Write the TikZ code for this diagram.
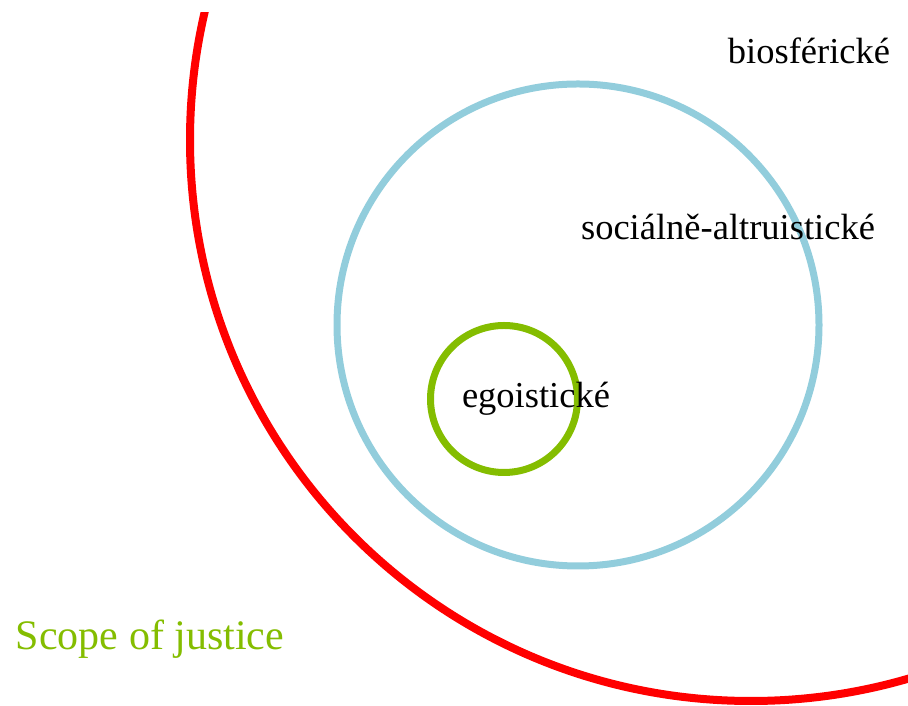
\documentclass[tikz,border=0pt]{standalone}
\usepackage{xcolor}
\usepackage{fontspec}
\setmainfont{Liberation Serif}
\definecolor{aqua}{RGB}{146,205,220}
\definecolor{leaf}{RGB}{132,189,0}

\begin{document}
\begin{tikzpicture}[x=1pt, y=1pt]
\def \bio {561pt}
\def \soc {241pt}
\def \ego {73.5pt}
\useasboundingbox (0,0) rectangle (908,706);
\begin{scope}
\clip (0,0) rectangle (908,693);
\draw[red, line width=8pt] (751,566) circle (\bio);
\end{scope}
\draw[aqua, line width=7pt] (578,381) circle (\soc);
\draw[leaf, line width=7pt] (504,307) circle (\ego);
\node[anchor=base, font=\fontsize{36.5}{40}\selectfont] (n1) at (809,642) {biosférické};
\node[anchor=base, font=\fontsize{36.5}{40}\selectfont] (n2) at (728,466) {sociálně-altruistické};
\node[anchor=base, font=\fontsize{36.5}{40}\selectfont] (n3) at (536,298) {egoistické};
\node[anchor=base, text=leaf, font=\fontsize{42}{46}\selectfont] (n4) at (150,56) {Scope of justice};
\end{tikzpicture}
\end{document}
